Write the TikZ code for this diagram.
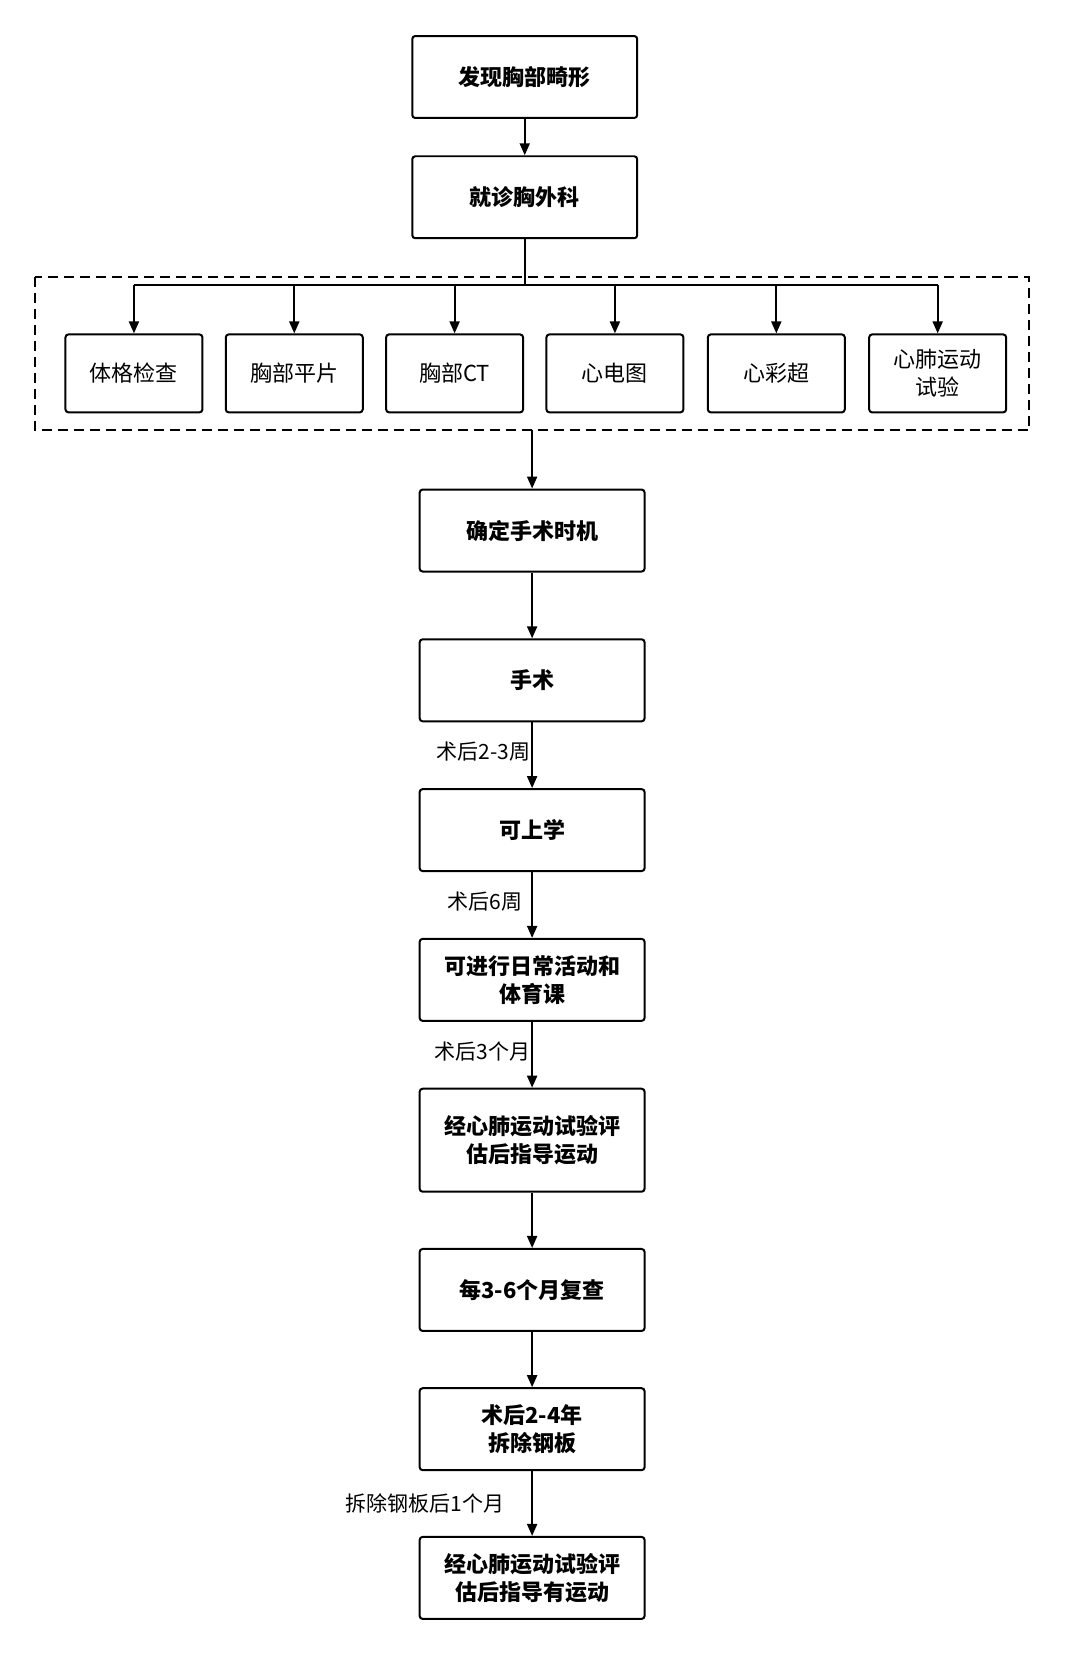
\documentclass[tikz,border=0pt]{standalone}
\usepackage{fontspec}
\setmainfont{Noto Sans CJK SC}
\usetikzlibrary{arrows.meta}
\tikzset{
  stage/.style={draw, line width=2pt, rounded corners=3pt, minimum width=225pt, minimum height=82pt, align=center, font=\fontsize{22}{28}\selectfont\bfseries},
  exam/.style={draw, line width=2pt, rounded corners=3pt, minimum width=137pt, minimum height=78pt, align=center, font=\fontsize{22}{28}\selectfont},
  flow/.style={line width=2pt, -{Triangle[length=12pt,width=10pt]}},
  lbl/.style={font=\fontsize{21}{24}\selectfont, anchor=east, inner sep=1pt}
}
\begin{document}
\begin{tikzpicture}[x=1.055pt, y=-1.055pt]
\useasboundingbox (0,0) rectangle (1024,1589);

\node[stage] (find) at (497.5,73) {发现胸部畸形};
\node[stage] (visit) at (497.5,187) {就诊胸外科};

% examinations
\draw[line width=2pt, dash pattern=on 10pt off 6pt] (33,263) rectangle (976,408);
\coordinate (bus) at (497.5,270);
\node[exam] (e1) at (127,354) {体格检查};
\node[exam] (e2) at (279,354) {胸部平片};
\node[exam] (e3) at (431,354) {胸部CT};
\node[exam] (e4) at (583,354) {心电图};
\node[exam] (e5) at (736,354) {心彩超};
\node[exam] (e6) at (889,354) {心肺运动\\试验};
\coordinate (boxbot) at (504.5,408);

\node[stage] (time) at (504.5,503) {确定手术时机};
\node[stage] (op) at (504.5,645) {手术};
\node[stage] (school) at (504.5,787) {可上学};
\node[stage] (daily) at (504.5,929) {可进行日常活动和\\体育课};
\node[stage, minimum height=103pt] (guide) at (504.5,1081) {经心肺运动试验评\\估后指导运动};
\node[stage] (check) at (504.5,1223) {每3-6个月复查};
\node[stage] (plate) at (504.5,1355) {术后2-4年\\拆除钢板};
\node[stage] (final) at (504.5,1496) {经心肺运动试验评\\估后指导有运动};

\draw[flow] (find) -- (visit);
\draw[line width=2pt] (visit) -- (bus);
\draw[line width=2pt] (e1.north |- bus) -- (e6.north |- bus);
\foreach \e in {e1,e2,e3,e4,e5,e6}
  \draw[flow] (\e.north |- bus) -- (\e);
\draw[flow] (boxbot) -- (time);
\draw[flow] (time) -- (op);
\draw[flow] (op) -- node[lbl, pos=0.45] {术后2-3周} (school);
\draw[flow] (school) -- node[lbl, pos=0.45, xshift=-8pt] {术后6周} (daily);
\draw[flow] (daily) -- node[lbl, pos=0.45] {术后3个月} (guide);
\draw[flow] (guide) -- (check);
\draw[flow] (check) -- (plate);
\draw[flow] (plate) -- node[lbl, pos=0.5, xshift=-26pt] {拆除钢板后1个月} (final);
\end{tikzpicture}
\end{document}
